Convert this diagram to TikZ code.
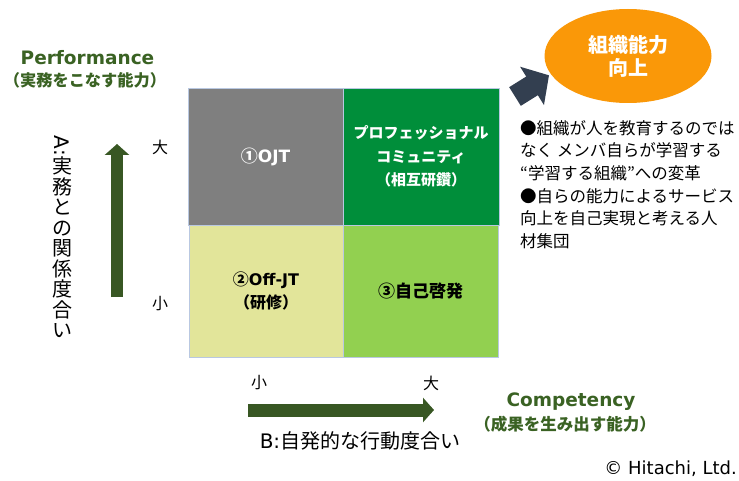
\documentclass[tikz,border=0pt]{standalone}
\usepackage{fontspec}
\setmainfont{Noto Sans CJK JP}
\newfontfamily\lat{DejaVu Sans}
\usetikzlibrary{arrows.meta,shapes.geometric}
\definecolor{axgreen}{RGB}{56,87,35}
\definecolor{txgreen}{RGB}{58,98,35}
\definecolor{qgrey}{RGB}{127,127,127}
\definecolor{qdark}{RGB}{0,142,58}
\definecolor{qyellow}{RGB}{226,229,154}
\definecolor{qlight}{RGB}{146,208,80}
\definecolor{qorange}{RGB}{250,152,8}
\definecolor{qnavy}{RGB}{51,63,80}
\definecolor{qedge}{RGB}{185,200,225}
\newcommand{\fsz}[2]{\fontsize{#1}{#2}\selectfont}
\begin{document}
\begin{tikzpicture}[x=1pt,y=-1pt,
  quad/.style={draw=qedge, line width=0.8pt, inner sep=0pt, align=center},
  axarrow/.style={axgreen, line width=12pt, -{Triangle[length=11pt,width=24pt]}},
  heading/.style={text=txgreen, inner sep=0pt},
  plain/.style={text=black, inner sep=0pt}]
\useasboundingbox (0,0) rectangle (739,481);
\fill[white] (0,0) rectangle (739,481);

% quadrants
\node[quad, fill=qgrey, minimum width=155pt, minimum height=137pt, text=white,
  font=\bfseries\fsz{17}{22}] (q1) at (265.5,156.5) {①{\lat OJT}};
\node[quad, fill=qdark, minimum width=156pt, minimum height=137pt, text=white,
  font=\bfseries\fsz{15}{23.5}] (q2) at (421,156.5) {プロフェッショナル\\コミュニティ\\（相互研鑽）};
\node[quad, fill=qyellow, minimum width=154pt, minimum height=132pt, text=black,
  font=\bfseries\fsz{16}{23}] (q3) at (266,291) {②{\lat Off-JT}\\（研修）};
\node[quad, fill=qlight, minimum width=155pt, minimum height=132pt, text=black,
  font=\bfseries\fsz{17}{22}] (q4) at (420.5,291) {③自己啓発};

% goal ellipse
\node[ellipse, fill=qorange, minimum width=167pt, minimum height=94pt, inner sep=0pt,
  text=white, align=center, font=\bfseries\fsz{20}{23}] (goal) at (628,56) {組織能力\\向上};

% dark block arrow
\coordinate (dtail) at (515,96.5);
\coordinate (dtip) at (549,75.3);
\draw[qnavy, line width=22pt, -{Triangle[length=20pt,width=44pt]}] (dtail) -- (dtip);

% axis arrows
\coordinate (vbot) at (117,297);
\coordinate (vtop) at (117,144);
\draw[axarrow] (vbot) -- (vtop);
\coordinate (hleft) at (248,410);
\coordinate (hright) at (434,410);
\draw[axarrow, line width=13pt] (hleft) -- (hright);

% headings
\node[heading, font=\lat\bfseries\fsz{18.5}{22}] (perf) at (87.5,58) {Performance};
\node[heading, font=\bfseries\fsz{16.2}{20}] (perfj) at (85,80) {（実務をこなす能力）};
\node[heading, font=\lat\bfseries\fsz{18.5}{22}] (comp) at (571,402) {Competency};
\node[heading, font=\bfseries\fsz{16.5}{20}] (compj) at (565,424) {（成果を生み出す能力）};

% scale labels
\node[plain, font=\fsz{16}{20}] (vbig) at (160,147) {大};
\node[plain, font=\fsz{16}{20}] (vsmall) at (160,304) {小};
\node[plain, font=\fsz{16}{20}] (hsmall) at (259,383) {小};
\node[plain, font=\fsz{16}{20}] (hbig) at (431,383) {大};

% axis titles
\node[plain, font=\fsz{20}{20}] (blab) at (360,441) {{\lat B:}自発的な行動度合い};
\node[plain, align=center, font=\fsz{20}{20.5}] (alab) at (62,237)
  {\rotatebox{-90}{\lat A:}\\実\\務\\と\\の\\関\\係\\度\\合\\い};

% bullet text
\node[plain, anchor=north west, align=left, font=\fsz{16.5}{22.7}] (notes) at (520,120)
  {●組織が人を教育するのでは\\なく メンバ自らが学習する\\“学習する組織”への変革\\●自らの能力によるサービス\\向上を自己実現と考える人\\材集団};

% copyright
\node[plain, anchor=east, font=\lat\fsz{18}{20}] (copy) at (737,469) {© Hitachi, Ltd.};
\end{tikzpicture}
\end{document}
